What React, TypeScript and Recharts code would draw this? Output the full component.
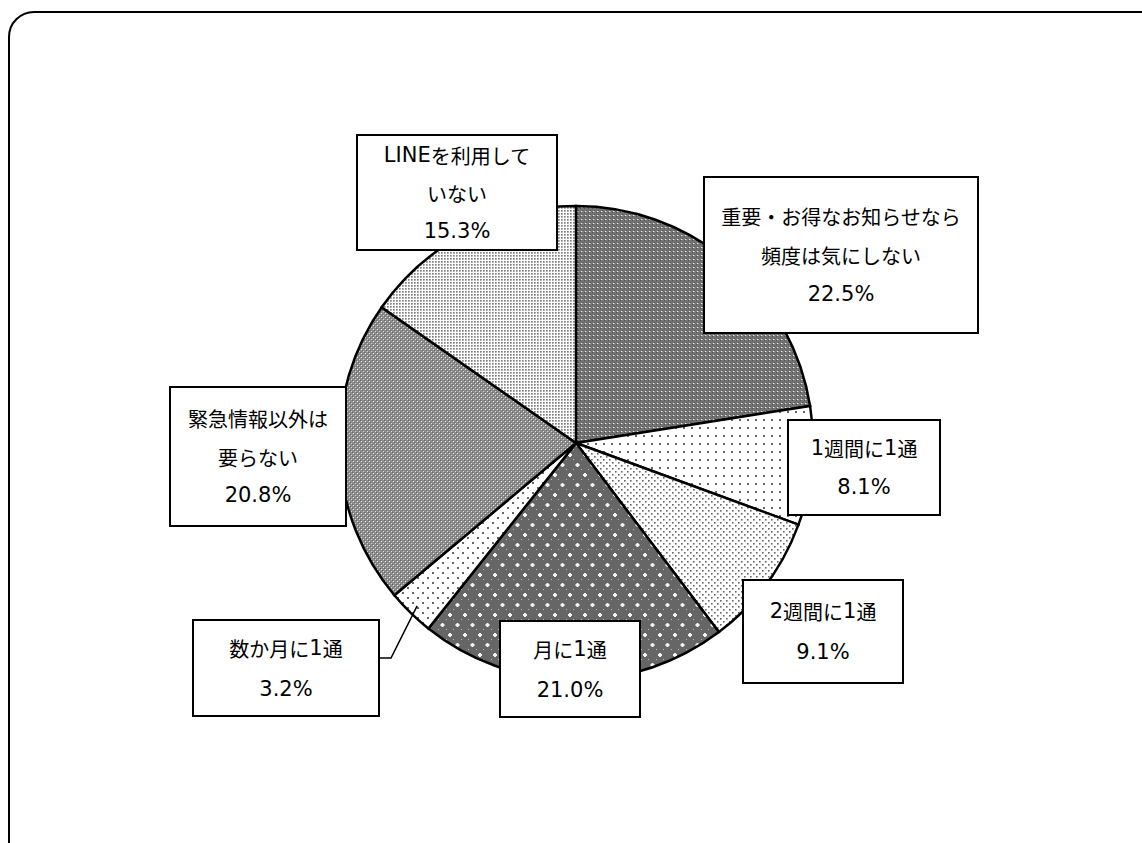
import { PieChart, Pie, Cell } from "recharts";

const categories = [
  "重要・お得なお知らせなら\n頻度は気にしない",
  "1週間に1通",
  "2週間に1通",
  "月に1通",
  "数か月に1通",
  "緊急情報以外は\n要らない",
  "LINEを利用して\nいない",
];
const shares = [22.5, 8.1, 9.1, 21.0, 3.2, 20.8, 15.3];

const data = categories.map((name, i) => ({ name, value: shares[i] }));

// label box placement (layout only)
const labelBoxes = [
  { x: 704, y: 177, w: 274, h: 156, step: 39 },
  { x: 788, y: 420, w: 152, h: 95, step: 39 },
  { x: 743, y: 580, w: 160, h: 103, step: 41 },
  { x: 500, y: 621, w: 140, h: 96, step: 41 },
  { x: 193, y: 620, w: 186, h: 96, step: 41 },
  { x: 170, y: 387, w: 176, h: 139, step: 38.5 },
  { x: 357, y: 135, w: 200, h: 115, step: 38 },
];

const RADIAN = Math.PI / 180;
const CJK = /[\u3000-\u9fff\uff00-\uffef]+|[^\u3000-\u9fff\uff00-\uffef]+/g;

function MixedText({ x, y, text }: { x: number; y: number; text: string }) {
  const runs = text.match(CJK) || [];
  return (
    <text x={x} y={y} textAnchor="middle" dominantBaseline="central" fill="#000">
      {runs.map((r, i) => {
        const cjk = /[\u3000-\u9fff\uff00-\uffef]/.test(r);
        return (
          <tspan
            key={i}
            fontSize={cjk ? 20 : 21}
            fontFamily={cjk ? "'Noto Sans CJK JP'" : "'DejaVu Sans', 'Noto Sans CJK JP'"}
          >
            {r}
          </tspan>
        );
      })}
    </text>
  );
}

function renderLabel(props: any) {
  const { index, cx, cy, midAngle, outerRadius } = props;
  const box = labelBoxes[index];
  const lines = [...categories[index].split("\n"), `${shares[index].toFixed(1)}%`];
  const mx = box.x + box.w / 2;
  const total = (lines.length - 1) * box.step;
  const y0 = box.y + box.h / 2 - total / 2;
  let leader = null;
  if (index === 4) {
    const ex = cx + outerRadius * 0.96 * Math.cos(-midAngle * RADIAN);
    const ey = cy + outerRadius * 0.96 * Math.sin(-midAngle * RADIAN);
    const sy = box.y + box.h / 2 - 10;
    leader = (
      <polyline
        points={`${box.x + box.w},${sy} ${box.x + box.w + 12},${sy} ${ex},${ey}`}
        fill="none"
        stroke="#000"
        strokeWidth={1.5}
      />
    );
  }
  return (
    <g key={`lbl-${index}`}>
      {leader}
      <rect x={box.x} y={box.y} width={box.w} height={box.h} fill="#fff" stroke="#000" strokeWidth={2} />
      {lines.map((t, i) => (
        <MixedText key={i} x={mx} y={y0 + i * box.step} text={t} />
      ))}
    </g>
  );
}

export default function App() {
  return (
    <div style={{ position: "absolute", left: 0, top: 0, width: 1142, height: 843, overflow: "hidden", background: "#fff" }}>
      <div
        style={{
          position: "absolute",
          left: 8,
          top: 11,
          width: 1160,
          height: 860,
          border: "2px solid #000",
          borderRadius: 26,
        }}
      />
      <div style={{ position: "absolute", left: 0, top: 0 }}>
        <PieChart width={1142} height={843} margin={{ top: 0, right: 0, bottom: 0, left: 0 }}>
          <defs>
            <pattern id="p0" width="4" height="4" patternUnits="userSpaceOnUse">
              <rect width="4" height="4" fill="#747474" />
              <rect x="0" y="0" width="1" height="1" fill="#505050" />
              <rect x="2" y="2" width="1" height="1" fill="#505050" />
              <rect x="1" y="3" width="1.4" height="1" fill="#eee" />
            </pattern>
            <pattern id="p1" width="8" height="8" patternUnits="userSpaceOnUse">
              <rect width="8" height="8" fill="#fff" />
              <rect x="3" y="3" width="2" height="2" fill="#666" />
            </pattern>
            <pattern id="p2" width="6" height="6" patternUnits="userSpaceOnUse">
              <rect width="6" height="6" fill="#fff" />
              <rect x="0" y="0" width="1.6" height="1.6" fill="#666" />
              <rect x="3" y="3" width="1.6" height="1.6" fill="#666" />
            </pattern>
            <pattern id="p3" width="15" height="20" patternUnits="userSpaceOnUse">
              <rect width="15" height="20" fill="#666" />
              <rect x="6.5" y="3" width="2" height="4" fill="#f4f4f4" />
              <rect x="5.5" y="4" width="4" height="2" fill="#f4f4f4" />
              <rect x="-1" y="13" width="2" height="4" fill="#f4f4f4" />
              <rect x="-2" y="14" width="4" height="2" fill="#f4f4f4" />
              <rect x="14" y="13" width="2" height="4" fill="#f4f4f4" />
              <rect x="13" y="14" width="4" height="2" fill="#f4f4f4" />
              <rect x="3" y="9" width="1" height="1" fill="#bbb" />
              <rect x="11" y="9" width="1" height="1" fill="#bbb" />
              <rect x="3" y="19" width="1" height="1" fill="#bbb" />
              <rect x="11" y="19" width="1" height="1" fill="#bbb" />
            </pattern>
            <pattern id="p4" width="10" height="10" patternUnits="userSpaceOnUse">
              <rect width="10" height="10" fill="#fff" />
              <rect x="2" y="2" width="2" height="2" fill="#666" />
              <rect x="7" y="7" width="2" height="2" fill="#666" />
            </pattern>
            <pattern id="p5" width="4" height="4" patternUnits="userSpaceOnUse">
              <rect width="4" height="4" fill="#8c8c8c" />
              <rect x="0" y="0" width="1" height="1" fill="#666" />
              <rect x="2" y="2" width="1" height="1" fill="#666" />
              <rect x="1" y="1" width="1" height="1" fill="#f0f0f0" />
              <rect x="3" y="3" width="1" height="1" fill="#d6d6d6" />
            </pattern>
            <pattern id="p6" width="3" height="3" patternUnits="userSpaceOnUse">
              <rect width="3" height="3" fill="#fff" />
              <rect x="0" y="0" width="1.7" height="1.7" fill="#808080" />
            </pattern>
          </defs>
          <Pie
            data={data}
            dataKey="value"
            nameKey="name"
            cx={576}
            cy={443}
            outerRadius={237}
            startAngle={90}
            endAngle={-270}
            stroke="#000"
            strokeWidth={2.5}
            label={renderLabel}
            labelLine={false}
            isAnimationActive={false}
          >
            {data.map((d, i) => (
              <Cell key={d.name} fill={`url(#p${i})`} />
            ))}
          </Pie>
        </PieChart>
      </div>
    </div>
  );
}
